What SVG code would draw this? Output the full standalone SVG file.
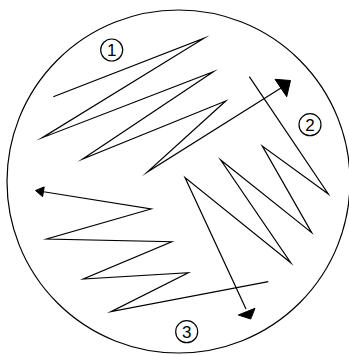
<svg xmlns="http://www.w3.org/2000/svg" width="349" height="355" viewBox="0 0 349 355">
<style>
.ln{fill:none;stroke:#000;stroke-width:1.2;stroke-linejoin:miter;stroke-miterlimit:20}
.hd{fill:#000;stroke:#000;stroke-width:1}
.lc{fill:none;stroke:#000;stroke-width:1.2}
.lt{font-family:"Liberation Sans",Arial,sans-serif;font-size:17px;text-anchor:middle;fill:#000}
</style>
<rect width="349" height="355" fill="#fff"/>
<g id="dish">
<circle cx="178.5" cy="181.5" r="171.5" class="lc"/>
</g>
<g id="connectors">
<polyline class="ln" points="53.3,96.7 204,38.3 42.3,137.7 213.3,71.7 82.7,159 225.7,101 147.3,172 281,88"/>
<polygon class="hd" points="290.5,80.5 275,79.3 286.7,96.7"/>
<polyline class="ln" points="249.3,76.7 328.3,194 262.3,146 311.7,232.7 220.7,160 290.7,262.7 185,177.5 246,309"/>
<polygon class="hd" points="250.7,319 238.3,315 255,308.3"/>
<polyline class="ln" points="268.3,281.7 111,311.7 188.3,272.7 83.3,279 171.7,241.7 46.7,239 151,209 42,191.5"/>
<polygon class="hd" points="35.5,190.5 44.2,186.9 42.6,196.7"/>
</g>
<g id="label1">
<circle cx="111.7" cy="50" r="11" class="lc"/>
<text x="111.7" y="56" class="lt">1</text>
</g>
<g id="label2">
<circle cx="310" cy="124.7" r="11" class="lc"/>
<text x="310" y="130.7" class="lt">2</text>
</g>
<g id="label3">
<circle cx="186.7" cy="331.7" r="11" class="lc"/>
<text x="186.7" y="337.7" class="lt">3</text>
</g>
</svg>
